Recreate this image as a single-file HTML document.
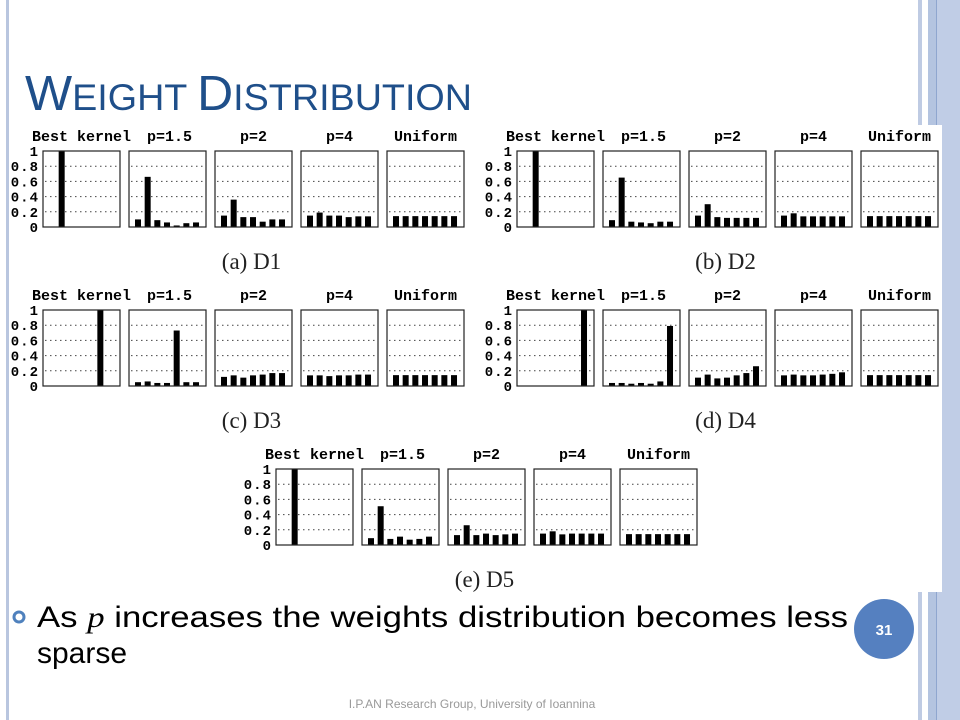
<!DOCTYPE html>
<html><head><meta charset="utf-8">
<style>
html,body{margin:0;padding:0;background:#fff;}
svg{display:block;}
</style></head>
<body>
<svg id="slide" width="960" height="720" viewBox="0 0 960 720" xmlns="http://www.w3.org/2000/svg">
  <rect x="0" y="0" width="960" height="720" fill="#fff"/>
  <rect x="6" y="0" width="3" height="720" fill="#b9c6df"/>
  <rect x="918" y="0" width="4" height="720" fill="#bfcbe3"/>
  <rect x="928" y="0" width="8" height="720" fill="#b4c4e0"/>
  <rect x="936" y="0" width="1" height="720" fill="#8fa6cf"/>
  <rect x="937" y="0" width="23" height="720" fill="#c0cde6"/>
  <text x="25" y="110" fill="#1f4f8a" font-family="Liberation Sans, sans-serif" textLength="447" lengthAdjust="spacingAndGlyphs"><tspan font-size="49">W</tspan><tspan font-size="37">EIGHT </tspan><tspan font-size="49">D</tspan><tspan font-size="37">ISTRIBUTION</tspan></text>
  <rect x="10" y="125" width="932" height="467" fill="#fff"/>
  <g id="charts"></g>
  <circle cx="19" cy="617" r="5" fill="none" stroke="#4f81bd" stroke-width="3"/>
  <text x="37" y="627" font-family="Liberation Sans, sans-serif" font-size="30" fill="#000" textLength="811" lengthAdjust="spacingAndGlyphs">As <tspan font-family="Liberation Serif, serif" font-style="italic">p</tspan> increases the weights distribution becomes less</text>
  <text x="37" y="663" font-family="Liberation Sans, sans-serif" font-size="30" fill="#000">sparse</text>
  <circle cx="884" cy="629" r="30" fill="#5580c0"/>
  <text x="884" y="635" text-anchor="middle" font-family="Liberation Sans, sans-serif" font-size="15" font-weight="bold" fill="#fff">31</text>
  <text x="472" y="708" text-anchor="middle" font-family="Liberation Sans, sans-serif" font-size="12" fill="#999">I.P.AN Research Group, University of Ioannina</text>
</svg>
<script>
const panelTitles = ["Best kernel", "p=1.5", "p=2", "p=4", "Uniform"];
const yTicks = [0, 0.2, 0.4, 0.6, 0.8, 1];
const yTickLabels = ["0", "0.2", "0.4", "0.6", "0.8", "1"];
const datasetNames = ["(a) D1", "(b) D2", "(c) D3", "(d) D4", "(e) D5"];
const uniform = [0.143, 0.143, 0.143, 0.143, 0.143, 0.143, 0.143];
const d1Best = [0, 1, 0, 0, 0, 0, 0];
const d1P15 = [0.10, 0.66, 0.09, 0.06, 0.02, 0.05, 0.06];
const d1P2 = [0.15, 0.36, 0.13, 0.13, 0.07, 0.10, 0.10];
const d1P4 = [0.15, 0.19, 0.15, 0.15, 0.13, 0.14, 0.14];
const d2Best = [0, 1, 0, 0, 0, 0, 0];
const d2P15 = [0.09, 0.65, 0.07, 0.06, 0.05, 0.07, 0.07];
const d2P2 = [0.15, 0.30, 0.13, 0.12, 0.12, 0.12, 0.12];
const d2P4 = [0.15, 0.18, 0.14, 0.14, 0.14, 0.14, 0.14];
const d3Best = [0, 0, 0, 0, 0, 1, 0];
const d3P15 = [0.05, 0.06, 0.04, 0.04, 0.73, 0.05, 0.05];
const d3P2 = [0.12, 0.14, 0.11, 0.14, 0.15, 0.17, 0.17];
const d3P4 = [0.14, 0.14, 0.13, 0.14, 0.14, 0.15, 0.15];
const d4Best = [0, 0, 0, 0, 0, 0, 1];
const d4P15 = [0.04, 0.04, 0.03, 0.04, 0.03, 0.06, 0.79];
const d4P2 = [0.11, 0.15, 0.10, 0.11, 0.14, 0.17, 0.26];
const d4P4 = [0.14, 0.15, 0.14, 0.14, 0.15, 0.16, 0.18];
const d5Best = [0, 1, 0, 0, 0, 0, 0];
const d5P15 = [0.09, 0.51, 0.08, 0.11, 0.07, 0.08, 0.11];
const d5P2 = [0.13, 0.26, 0.13, 0.15, 0.13, 0.14, 0.15];
const d5P4 = [0.15, 0.18, 0.14, 0.15, 0.15, 0.15, 0.15];

const datasets = [
  [d1Best, d1P15, d1P2, d1P4, uniform],
  [d2Best, d2P15, d2P2, d2P4, uniform],
  [d3Best, d3P15, d3P2, d3P4, uniform],
  [d4Best, d4P15, d4P2, d4P4, uniform],
  [d5Best, d5P15, d5P2, d5P4, uniform]
];
// layout (not data)
const origins = [[43,151],[517,151],[43,310],[517,310],[276,469]];
const NS = "http://www.w3.org/2000/svg";
const root = document.getElementById("charts");
const PW = 77, PH = 76, PITCH = 86, BW = 6, BP = 9.67;
function mk(tag, attrs, parent){ const e=document.createElementNS(NS,tag); for(const k in attrs) e.setAttribute(k,attrs[k]); parent.appendChild(e); return e; }

datasets.forEach((ds, di) => {
  const [ox, oy] = origins[di];
  const g = mk("g", {}, root);
  
  
  const yScale = v => oy + PH - v * PH;
  yTicks.forEach((t, ti) => {
    const tl = mk("text", {x: ox-4, y: yScale(t)+5, "text-anchor":"end", "font-family":"Liberation Mono, monospace", "font-weight":"bold", "font-size":"14", "letter-spacing":"1"}, g);
    
    
    tl.textContent = yTickLabels[ti];
  });
  ds.forEach((vals, pi) => {
    const px = ox + pi * PITCH;
    const t = mk("text", {x: px + PW/2 + (pi===1?2:0), y: oy - 10, "text-anchor":"middle", "font-family":"Liberation Mono, monospace", "font-weight":"bold", "font-size":"15"}, g);
    
    
    t.textContent = panelTitles[pi];
    yTicks.forEach(tv => {
      if (tv <= 0 || tv >= 1) return;
      const gl = mk("line", {x1: px+2, x2: px+PW-2, y1: yScale(tv), y2: yScale(tv), stroke:"#444", "stroke-width":"1", "stroke-dasharray":"1.5 3.5"}, g);
      
      
    });
    vals.forEach((v, bi) => {
      if (v <= 0) return;
      const b = mk("rect", {x: px + 6 + bi*BP, y: yScale(v), width: BW, height: v*PH, fill:"#000"}, g);
      
      
    });
    const fr = mk("rect", {x: px, y: oy, width: PW, height: PH, fill:"none", stroke:"#222", "stroke-width":"1.2"}, g);
    
    
  });
  const cap = mk("text", {x: ox + 2*PITCH + PW/2 - 2, y: oy + PH + 42, "text-anchor":"middle", "font-family":"Liberation Serif, serif", "font-size":"23", fill:"#222"}, g);
  
  
  cap.textContent = datasetNames[di];
});
</script>
</body></html>
